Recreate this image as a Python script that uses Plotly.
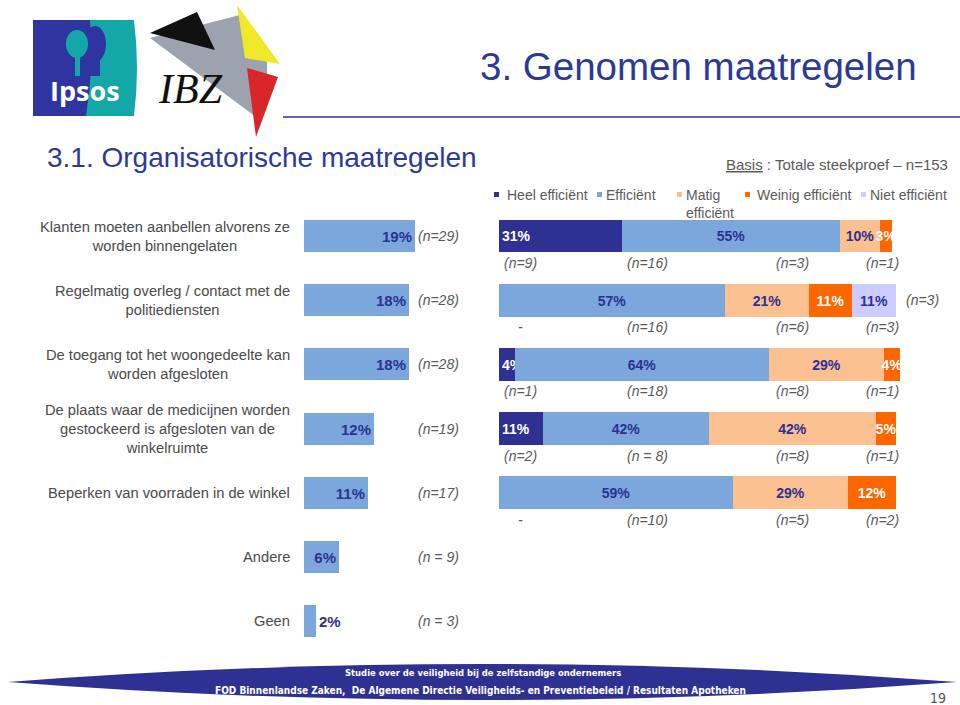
import plotly.graph_objects as go

W, H = 960, 705
def px(x): return x / W
def py(y): return 1 - y / H

# ---------------- data ----------------
left_labels = [
    "Klanten moeten aanbellen alvorens ze<br>worden binnengelaten",
    "Regelmatig overleg / contact met de<br>politiediensten",
    "De toegang tot het woongedeelte kan<br>worden afgesloten",
    "De plaats waar de medicijnen worden<br>gestockeerd is afgesloten van de<br>winkelruimte",
    "Beperken van voorraden in de winkel",
    "Andere",
    "Geen",
]
left_values = [19, 18, 18, 12, 11, 6, 2]
left_n = ["(n=29)", "(n=28)", "(n=28)", "(n=19)", "(n=17)", "(n = 9)", "(n = 3)"]

series_names = ["Heel efficiënt", "Efficiënt", "Matig<br>efficiënt", "Weinig efficiënt", "Niet efficiënt"]
heel = [31, 0, 4, 11, 0]
efficient = [55, 57, 64, 42, 59]
matig = [10, 21, 29, 42, 29]
weinig = [3, 11, 4, 5, 12]
niet = [0, 11, 0, 0, 0]
n_heel = ["(n=9)", "-", "(n=1)", "(n=2)", "-"]
n_eff = ["(n=16)", "(n=16)", "(n=18)", "(n = 8)", "(n=10)"]
n_matig = ["(n=3)", "(n=6)", "(n=8)", "(n=8)", "(n=5)"]
n_weinig = ["(n=1)", "(n=3)", "(n=1)", "(n=1)", "(n=2)"]
n_niet = ["", "(n=3)", "", "", ""]

# ---------------- styles ----------------
NAVY = "#2E3192"
colors = ["#2E3192", "#7BA7DC", "#FAC090", "#FF6600", "#CCCCFF"]
text_colors = ["white", NAVY, NAVY, "white", NAVY]
FONT = "Liberation Sans, Arial, sans-serif"
GRAY = "#4a4a4a"
NGRAY = "#5a5a5a"
NARROW = "Liberation Sans Narrow, DejaVu Sans Condensed, Arial Narrow, sans-serif"

fig = go.Figure()

# left chart
rows_left = list(range(len(left_values)))
fig.add_trace(go.Bar(
    y=rows_left, x=left_values, orientation="h", width=0.5,
    marker=dict(color="#7BA7DC", line=dict(width=0)),
    text=[f"{v}%" for v in left_values],
    textposition=["inside"] * 6 + ["outside"], textangle=0,
    insidetextanchor="end", constraintext="none", cliponaxis=False,
    textfont=dict(family=FONT, size=15, color=NAVY, weight="bold"),
    xaxis="x", yaxis="y", showlegend=False, hoverinfo="skip",
))

# right stacked chart
series = [heel, efficient, matig, weinig, niet]
rows_right = list(range(len(heel)))
for i, vals in enumerate(series):
    fig.add_trace(go.Bar(
        y=rows_right, x=vals, orientation="h", width=0.51,
        name=series_names[i],
        marker=dict(color=colors[i], line=dict(width=0)),
        text=[f"{v}%" if v else "" for v in vals],
        textposition="inside", textangle=0,
        insidetextanchor="start" if i == 0 else "middle",
        constraintext="none", cliponaxis=False,
        textfont=dict(family=FONT, size=14, color=text_colors[i], weight="bold"),
        xaxis="x2", yaxis="y", showlegend=False, hoverinfo="skip",
    ))

s = 64.2
top = 236
fig.update_layout(
    width=W, height=H, margin=dict(l=0, r=0, t=0, b=0),
    paper_bgcolor="white", plot_bgcolor="rgba(0,0,0,0)",
    barmode="stack", bargap=0,
    xaxis=dict(domain=[px(304), px(304 + 5.85 * 20)], range=[0, 20], visible=False, anchor="y"),
    xaxis2=dict(domain=[px(499), px(499 + 3.97 * 102)], range=[0, 102], visible=False, anchor="y"),
    yaxis=dict(domain=[0, 1], range=[(H - top) / s, -top / s], visible=False, anchor="x"),
    font=dict(family=FONT),
)

ann = []
# left category labels
for i, lab in enumerate(left_labels):
    ann.append(dict(xref="paper", yref="y", x=px(292), y=i, xanchor="right", yanchor="middle",
                    text=lab, align="center", showarrow=False,
                    font=dict(family=FONT, size=14.7, color=GRAY)))
    ann.append(dict(xref="paper", yref="y", x=px(416), y=i, xanchor="left", yanchor="middle",
                    text=f"<i>{left_n[i]}</i>", showarrow=False,
                    font=dict(family=FONT, size=14, color=NGRAY)))

# right n labels
cols = [(n_heel, 520), (n_eff, 647), (n_matig, 792), (n_weinig, 882)]
for lst, cx in cols:
    for i, t in enumerate(lst):
        ann.append(dict(xref="paper", yref="y", x=px(cx), y=i + 27 / s, xanchor="center", yanchor="middle",
                        text=f"<i>{t}</i>", showarrow=False,
                        font=dict(family=FONT, size=14, color=NGRAY)))
for i, t in enumerate(n_niet):
    if t:
        ann.append(dict(xref="paper", yref="y", x=px(904), y=i, xanchor="left", yanchor="middle",
                        text=f"<i>{t}</i>", showarrow=False,
                        font=dict(family=FONT, size=14, color=NGRAY)))

# legend (custom)
legend_pos = [(494, 505), (597, 604), (677, 684), (745, 755), (861, 868)]
shapes = []
for i, (mx, tx) in enumerate(legend_pos):
    shapes.append(dict(type="rect", xref="paper", yref="paper",
                       x0=px(mx), x1=px(mx + 5), y0=py(197), y1=py(192),
                       fillcolor=colors[i], line=dict(width=0)))
    ann.append(dict(xref="paper", yref="paper", x=px(tx), y=py(185), xanchor="left", yanchor="top",
                    text=series_names[i], align="left", showarrow=False,
                    font=dict(family=FONT, size=14, color=NGRAY)))

# titles
ann.append(dict(xref="paper", yref="paper", x=px(478), y=py(66), xanchor="left", yanchor="middle",
                text="3. Genomen maatregelen", showarrow=False,
                font=dict(family=FONT, size=38.5, color="#2B3A97")))
ann.append(dict(xref="paper", yref="paper", x=px(45), y=py(157), xanchor="left", yanchor="middle",
                text="3.1. Organisatorische maatregelen", showarrow=False,
                font=dict(family=FONT, size=28, color="#2B3A97")))
ann.append(dict(xref="paper", yref="paper", x=px(950), y=py(164), xanchor="right", yanchor="middle",
                text="<u>Basis</u> : Totale steekproef – n=153", showarrow=False,
                font=dict(family=FONT, size=15, color=NGRAY)))

# footer
shapes.append(dict(type="path", xref="paper", yref="paper",
                   path=f"M {px(8)} {py(682)} Q {px(480)} {py(646)} {px(957)} {py(682)} "
                        f"Q {px(480)} {py(718)} {px(8)} {py(682)} Z",
                   fillcolor="#2E3192", line=dict(width=0)))
ann.append(dict(xref="paper", yref="paper", x=px(483), y=py(672), xanchor="center", yanchor="middle",
                text="<b>Studie over de veiligheid bij de zelfstandige ondernemers</b>", showarrow=False,
                font=dict(family=NARROW, size=9.4, color="white")))
ann.append(dict(xref="paper", yref="paper", x=px(480), y=py(690), xanchor="center", yanchor="middle",
                text="<b>FOD Binnenlandse Zaken,  De Algemene Directie Veiligheids- en Preventiebeleid / Resultaten Apotheken</b>",
                showarrow=False,
                font=dict(family=NARROW, size=10, color="white")))
ann.append(dict(xref="paper", yref="paper", x=px(938), y=py(698), xanchor="center", yanchor="middle",
                text="19", showarrow=False,
                font=dict(family=NARROW, size=14, color="#555555")))

# header line
shapes.append(dict(type="line", xref="paper", yref="paper", x0=px(283), x1=px(960),
                   y0=py(117), y1=py(117), line=dict(color="#2E3192", width=1.5)))

# Ipsos logo
shapes.append(dict(type="rect", xref="paper", yref="paper", x0=px(33), x1=px(92), y0=py(116), y1=py(20),
                   fillcolor="#2F35A0", line=dict(width=0)))
shapes.append(dict(type="path", xref="paper", yref="paper",
                   path=f"M {px(90)} {py(20)} L {px(134)} {py(20)} Q {px(140)} {py(68)} {px(134)} {py(116)} "
                        f"L {px(86)} {py(116)} Q {px(94)} {py(68)} {px(90)} {py(20)} Z",
                   fillcolor="#14A7A8", line=dict(width=0)))
shapes.append(dict(type="circle", xref="paper", yref="paper", x0=px(84), x1=px(106), y0=py(62), y1=py(26),
                   fillcolor="#2F35A0", line=dict(width=0)))
shapes.append(dict(type="rect", xref="paper", yref="paper", x0=px(86), x1=px(100), y0=py(76), y1=py(56),
                   fillcolor="#2F35A0", line=dict(width=0)))
shapes.append(dict(type="circle", xref="paper", yref="paper", x0=px(66), x1=px(88), y0=py(58), y1=py(30),
                   fillcolor="#14A7A8", line=dict(width=0)))
shapes.append(dict(type="rect", xref="paper", yref="paper", x0=px(75), x1=px(80), y0=py(76), y1=py(56),
                   fillcolor="#14A7A8", line=dict(width=0)))
ann.append(dict(xref="paper", yref="paper", x=px(85), y=py(91), xanchor="center", yanchor="middle",
                text="<b>Ipsos</b>", showarrow=False,
                font=dict(family="Open Sans, Arial, sans-serif", size=27, color="white")))

# IBZ logo
def poly(pts):
    return "M " + " L ".join(f"{px(x)} {py(y)}" for x, y in pts) + " Z"
shapes.append(dict(type="path", xref="paper", yref="paper",
                   path=poly([(150, 38), (240, 15), (267, 62), (267, 100), (256, 117)]),
                   fillcolor="#9CA3AE", line=dict(width=0)))
shapes.append(dict(type="path", xref="paper", yref="paper",
                   path=poly([(150, 33), (197, 12), (215, 50)]),
                   fillcolor="#111111", line=dict(width=0)))
shapes.append(dict(type="path", xref="paper", yref="paper",
                   path=poly([(237, 5), (280, 64), (245, 58)]),
                   fillcolor="#F2E82A", line=dict(width=0)))
shapes.append(dict(type="path", xref="paper", yref="paper",
                   path=poly([(247, 68), (278, 77), (256, 137)]),
                   fillcolor="#D8262A", line=dict(width=0)))
ann.append(dict(xref="paper", yref="paper", x=px(190), y=py(89), xanchor="center", yanchor="middle",
                text="<i>IBZ</i>", showarrow=False,
                font=dict(family="Liberation Serif, DejaVu Serif, serif", size=42, color="#111111")))

fig.update_layout(annotations=ann, shapes=shapes)
fig.write_html("out.html", config={"displayModeBar": False},
               post_script="document.body.style.margin='0px';")
